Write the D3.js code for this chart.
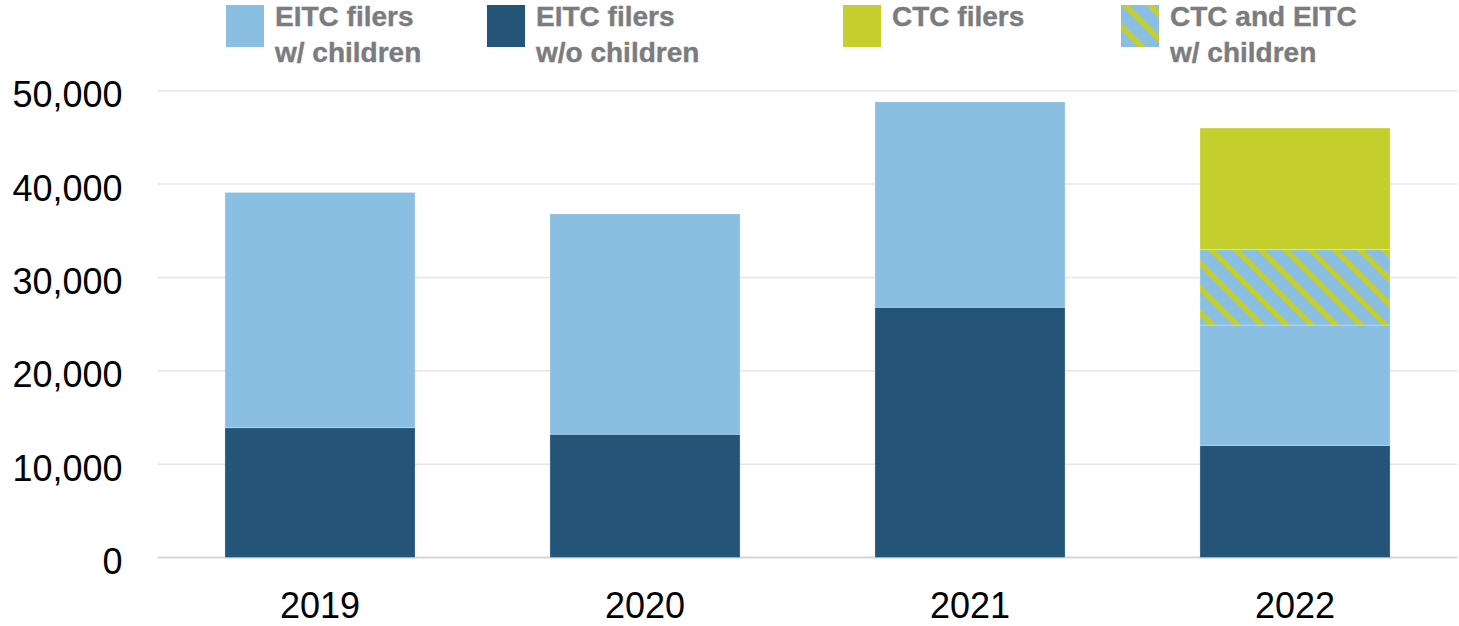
<!DOCTYPE html>
<html lang="en">
  <head>
    <meta charset="utf-8">
    <title>EITC and CTC filers</title>
    <script src="https://d3js.org/d3.v7.min.js"></script>
    <style>
      body { margin: 0; background: #fff; }
      text { font-family: "Liberation Sans", Arial, sans-serif; }
    </style>
  </head>
  <body>
    <div id="chart"></div>
    <script type="text/javascript">
      // data
      const years = ["2019", "2020", "2021", "2022"];
      const eitcNoKids = [13900, 13200, 26800, 12000];
      const eitcKids = [25200, 23600, 22000, 12900];
      const ctcAndEitc = [0, 0, 0, 8100];
      const ctcFilers = [0, 0, 0, 13000];
      const yTicks = [0, 10000, 20000, 30000, 40000, 50000];

      const legendItems = [
        {key: "kids", lines: ["EITC filers", "w/ children"]},
        {key: "noKids", lines: ["EITC filers", "w/o children"]},
        {key: "ctc", lines: ["CTC filers"]},
        {key: "both", lines: ["CTC and EITC", "w/ children"]}
      ];
      const legendX = [226, 487, 843, 1121];

      const colors = {
        noKids: "#245579",
        kids: "#8abfe3",
        ctc: "#c4cf2e",
        both: "url(#hatch)"
      };

      function drawChart() {
          let svgWidth = 1459,
              svgHeight = 626;

          let margin = { top: 90.7, right: 1.5, bottom: 68.5, left: 157.5 },
              width = svgWidth - margin.left - margin.right,
              height = svgHeight - margin.top - margin.bottom;

          let root = d3.select("#chart")
              .append("svg")
              .attr("width", svgWidth)
              .attr("height", svgHeight);

          // hatch pattern for the CTC + EITC segment
          let pattern = root.append("defs")
              .append("pattern")
              .attr("id", "hatch")
              .attr("patternUnits", "userSpaceOnUse")
              .attr("width", 17.5)
              .attr("height", 17.5)
              .attr("patternTransform", "rotate(-45)");
          pattern.append("rect")
              .attr("width", 17.5)
              .attr("height", 17.5)
              .attr("fill", colors.kids);
          pattern.append("rect")
              .attr("width", 5.5)
              .attr("height", 17.5)
              .attr("fill", colors.ctc);

          let svg = root.append("g")
              .attr("transform", "translate(" + margin.left + "," + margin.top + ")");

          let table = years.map((yr, i) => ({
              year: yr,
              noKids: eitcNoKids[i],
              kids: eitcKids[i],
              both: ctcAndEitc[i],
              ctc: ctcFilers[i]
          }));

          let stack = d3.stack().keys(["noKids", "kids", "both", "ctc"]);
          let series = stack(table);

          let x = d3.scaleBand()
              .domain(years)
              .range([0, width])
              .paddingInner(0.415)
              .paddingOuter(0.2075);

          let y = d3.scaleLinear()
              .domain([0, 50000])
              .range([height, 0]);

          // gridlines
          svg.append("g")
              .selectAll("line")
              .data(yTicks)
              .join("line")
              .attr("x1", 0)
              .attr("x2", width)
              .attr("y1", d => y(d))
              .attr("y2", d => y(d))
              .attr("stroke", d => d === 0 ? "#d6d6d6" : "#e6e6e6")
              .attr("stroke-width", d => d === 0 ? 2 : 1.5);

          // y axis labels
          let yAxis = svg.append("g")
              .attr("transform", "translate(-35,0)")
              .call(d3.axisLeft(y).tickValues(yTicks).tickSize(0).tickPadding(0)
                    .tickFormat(d3.format(",")));
          yAxis.select(".domain").remove();
          yAxis.selectAll("text")
              .attr("font-family", "'Liberation Sans', Arial, sans-serif")
              .attr("font-size", 36)
              .attr("fill", "#000")
              .attr("dy", "0.45em");

          // x axis labels
          let xAxis = svg.append("g")
              .attr("transform", "translate(0," + height + ")")
              .call(d3.axisBottom(x).tickSize(0).tickPadding(0));
          xAxis.select(".domain").remove();
          xAxis.selectAll("text")
              .attr("font-family", "'Liberation Sans', Arial, sans-serif")
              .attr("font-size", 36)
              .attr("fill", "#000")
              .attr("dy", null)
              .attr("y", 60);

          // bars
          svg.append("g")
              .selectAll("g")
              .data(series)
              .join("g")
              .attr("fill", d => colors[d.key])
              .selectAll("rect")
              .data(d => d.filter(s => s[1] > s[0]))
              .join("rect")
              .attr("x", d => x(d.data.year))
              .attr("width", x.bandwidth())
              .attr("y", d => y(d[1]))
              .attr("height", d => y(d[0]) - y(d[1]))
              .attr("stroke", "rgba(255,255,255,0.35)")
              .attr("stroke-width", 0.75);

          // legend
          let legend = root.append("g")
              .selectAll("g")
              .data(legendItems)
              .join("g")
              .attr("transform", (d, i) => "translate(" + legendX[i] + ",5)");

          legend.append("rect")
              .attr("width", 38)
              .attr("height", 42)
              .attr("fill", d => colors[d.key]);

          legend.append("text")
              .attr("x", 49)
              .attr("font-size", 28)
              .attr("font-weight", "bold")
              .attr("fill", "#7b7c80")
              .attr("stroke", "#7b7c80")
              .attr("stroke-width", 0.4)
              .selectAll("tspan")
              .data(d => d.lines)
              .join("tspan")
              .attr("x", 49)
              .attr("y", (d, i) => 21 + i * 36)
              .text(d => d);
      }

      drawChart();
    </script>
  </body>
</html>
